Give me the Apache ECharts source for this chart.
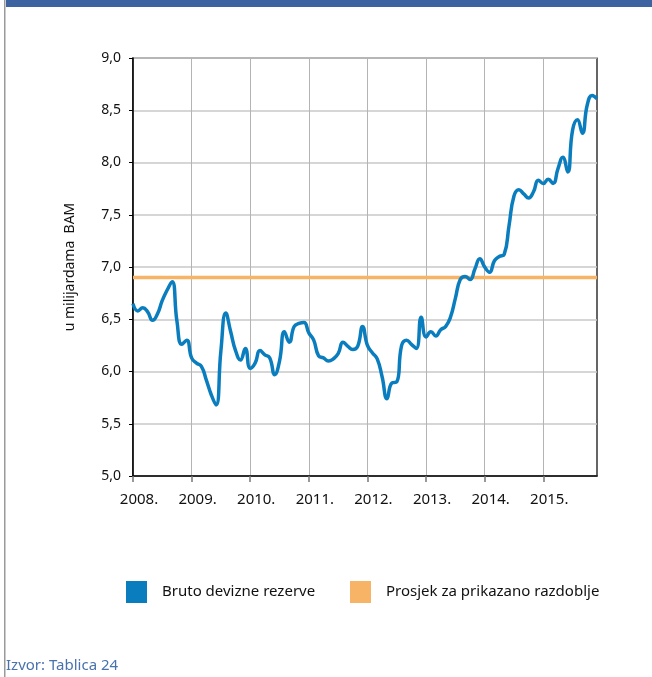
<!DOCTYPE html>
<html>
<head>
<meta charset="utf-8">
<script src="https://cdn.jsdelivr.net/npm/echarts@6/dist/echarts.min.js"></script>
<style>
  html, body { margin: 0; padding: 0; background: #fff; }
  #main { width: 652px; height: 677px; }
</style>
</head>
<body>
<div id="main"></div>
<script>
  // mjesečni podaci, siječanj 2008. - prosinac 2015.
  var years = ['2008.', '2009.', '2010.', '2011.', '2012.', '2013.', '2014.', '2015.'];
  var months = [];
  years.forEach(function (y) {
    for (var m = 1; m <= 12; m++) months.push(y + m);
  });

  // Bruto devizne rezerve, u milijardama BAM
  var reserves = [
    6.65, 6.58, 6.61, 6.57, 6.49, 6.55, 6.68, 6.78, 6.86, 6.48, 6.26, 6.30,
    6.13, 6.08, 6.05, 5.92, 5.78, 5.68, 6.20, 6.56, 6.38, 6.20, 6.11, 6.22,
    6.03, 6.08, 6.20, 6.16, 6.13, 5.97, 6.10, 6.38, 6.28, 6.43, 6.46, 6.47,
    6.37, 6.30, 6.15, 6.13, 6.10, 6.12, 6.17, 6.28, 6.24, 6.21, 6.24, 6.43,
    6.25, 6.18, 6.12, 5.95, 5.74, 5.89, 5.90, 6.25, 6.30, 6.26, 6.22, 6.52,
    6.33, 6.38, 6.34, 6.40, 6.43, 6.52, 6.70, 6.88, 6.91, 6.88, 6.98, 7.08,
    7.00, 6.95, 7.06, 7.10, 7.12, 7.40, 7.68, 7.74, 7.70, 7.66, 7.72, 7.83,
    7.80, 7.84, 7.80, 7.94, 8.05, 7.91, 8.31, 8.41, 8.28, 8.55, 8.64, 8.61
  ];

  // Prosjek za prikazano razdoblje
  var average = 6.9;
  var averageLine = months.map(function () { return average; });

  var yTicks = { min: 5, max: 9, interval: 0.5 };

  var blue = '#0a7dbe';
  var orange = '#f8b466';
  var font = 'Noto Sans';

  var chart = echarts.init(document.getElementById('main'));

  var option = {
    animation: false,
    textStyle: { fontFamily: font },
    graphic: [
      { type: 'rect', left: 6, top: 0, shape: { width: 646, height: 7 }, style: { fill: '#3d63a1' } },
      { type: 'rect', left: 4, top: 0, shape: { width: 1.5, height: 677 }, style: { fill: '#9a9a9a' } },
      {
        type: 'text', left: 6, top: 658,
        style: { text: 'Izvor: Tablica 24', fill: '#4a72ad', font: '15px "Noto Sans"' }
      }
    ],
    legend: [{
      left: 121, top: 576,
      icon: 'rect', itemWidth: 21, itemHeight: 22,
      data: ['Bruto devizne rezerve'],
      textStyle: { fontSize: 15, color: '#111', padding: [0, 0, 0, 10] }
    }, {
      left: 345, top: 576,
      icon: 'rect', itemWidth: 21, itemHeight: 22,
      data: ['Prosjek za prikazano razdoblje'],
      textStyle: { fontSize: 15, color: '#111', padding: [0, 0, 0, 10] }
    }],
    grid: {
      left: 133, top: 58, right: 55, bottom: 201,
      show: true, borderColor: '#000', borderWidth: 1.2
    },
    xAxis: {
      type: 'category',
      data: months,
      boundaryGap: false,
      axisLine: { lineStyle: { color: '#000', width: 1.5 } },
      axisTick: {
        show: true, length: 6,
        interval: function (i) { return i % 12 === 0; },
        lineStyle: { color: '#777', width: 1.5 }
      },
      axisLabel: {
        interval: function (i) { return i % 12 === 0; },
        formatter: function (v) { return v.slice(0, 5); },
        color: '#111', fontSize: 15, margin: 16,
        padding: [0, 0, 0, 12]
      },
      splitLine: {
        show: true,
        interval: function (i) { return i % 12 === 0; },
        lineStyle: { color: '#b4b4b4', width: 1 }
      }
    },
    yAxis: {
      type: 'value',
      min: yTicks.min, max: yTicks.max, interval: yTicks.interval,
      name: 'u milijardama  BAM',
      nameLocation: 'middle',
      nameGap: 56,
      nameTextStyle: { color: '#111', fontSize: 14 },
      axisLine: { show: true, lineStyle: { color: '#000', width: 1.5 } },
      axisTick: { show: true, length: 4, lineStyle: { color: '#000' } },
      axisLabel: {
        color: '#111', fontSize: 14, margin: 12,
        formatter: function (v) { return v.toFixed(1).replace('.', ','); }
      },
      splitLine: { lineStyle: { color: '#c8c8c8', width: 1.5 } }
    },
    series: [{
      name: 'Bruto devizne rezerve',
      type: 'line',
      data: reserves,
      smooth: 0.5,
      symbol: 'none',
      z: 3,
      itemStyle: { color: blue },
      lineStyle: { color: blue, width: 3.5 }
    }, {
      name: 'Prosjek za prikazano razdoblje',
      type: 'line',
      data: averageLine,
      symbol: 'none',
      z: 2,
      itemStyle: { color: orange },
      lineStyle: { color: orange, width: 3.5 }
    }]
  };

  chart.setOption(option);
</script>
</body>
</html>
